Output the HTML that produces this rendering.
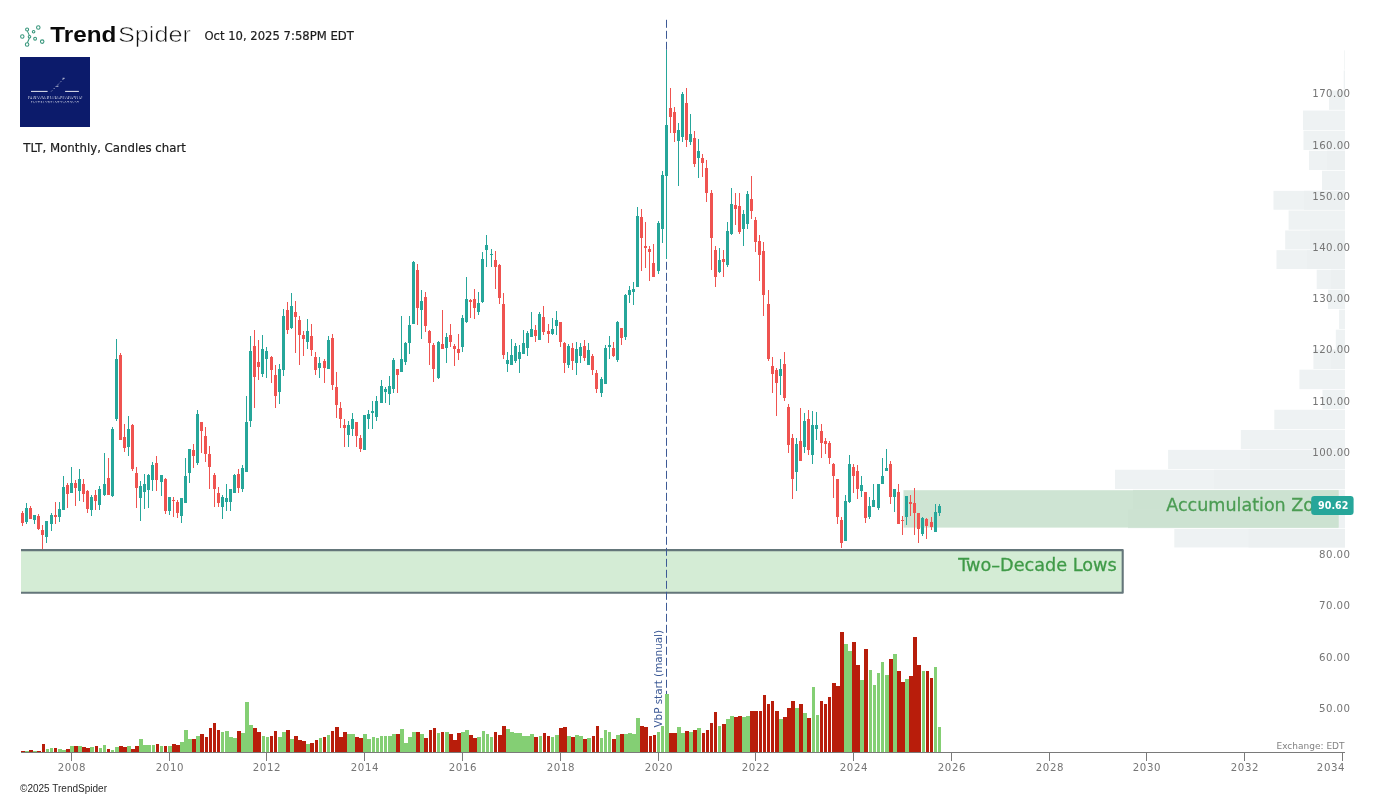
<!DOCTYPE html>
<html lang="en"><head><meta charset="utf-8"><title>TLT, Monthly, Candles chart - TrendSpider</title>
<style>
html,body{margin:0;padding:0;background:#fff;}
body{width:1375px;height:798px;overflow:hidden;position:relative;font-family:"DejaVu Sans","Liberation Sans",sans-serif;}
svg{position:absolute;left:0;top:0;display:block;}
.ax{font-family:"DejaVu Sans","Liberation Sans",sans-serif;font-size:10.2px;fill:#757575;}
.lbl{font-family:"DejaVu Sans","Liberation Sans",sans-serif;fill:#1c1c1c;stroke:#1c1c1c;stroke-width:0.2px;}
.zone{font-family:"DejaVu Sans","Liberation Sans",sans-serif;font-size:18px;stroke-width:0.3px;}
</style></head><body>
<svg width="1375" height="798" viewBox="0 0 1375 798">
<rect width="1375" height="798" fill="#ffffff"/>
<g id="vbp">
<rect x="1344.3" y="50.35" width="0.7" height="19.40" fill="#eef2f3"/>
<rect x="1343.7" y="70.45" width="1.3" height="19.30" fill="#eef2f3"/>
<rect x="1329.0" y="90.45" width="16.0" height="19.40" fill="#eef2f3"/>
<rect x="1303.0" y="110.55" width="42.0" height="19.40" fill="#eef2f3"/>
<rect x="1303.5" y="130.65" width="41.5" height="19.40" fill="#eef2f3"/>
<rect x="1309.0" y="150.75" width="36.0" height="19.30" fill="#eef2f3"/>
<rect x="1327.0" y="150.75" width="18.0" height="19.30" fill="#ecf0f1"/>
<rect x="1322.0" y="170.75" width="23.0" height="19.40" fill="#eef2f3"/>
<rect x="1273.5" y="190.85" width="71.5" height="18.90" fill="#eef2f3"/>
<rect x="1304.0" y="190.85" width="41.0" height="18.90" fill="#ecf0f1"/>
<rect x="1288.6" y="210.45" width="56.4" height="19.30" fill="#eef2f3"/>
<rect x="1285.2" y="230.45" width="59.8" height="19.00" fill="#eef2f3"/>
<rect x="1310.0" y="230.45" width="35.0" height="19.00" fill="#ecf0f1"/>
<rect x="1276.5" y="250.15" width="68.5" height="18.90" fill="#eef2f3"/>
<rect x="1307.0" y="250.15" width="38.0" height="18.90" fill="#ecf0f1"/>
<rect x="1316.7" y="269.75" width="28.3" height="19.20" fill="#eef2f3"/>
<rect x="1331.0" y="269.75" width="14.0" height="19.20" fill="#ecf0f1"/>
<rect x="1328.0" y="289.65" width="17.0" height="19.30" fill="#eef2f3"/>
<rect x="1339.1" y="309.65" width="5.9" height="19.30" fill="#eef2f3"/>
<rect x="1335.8" y="329.65" width="9.2" height="19.30" fill="#eef2f3"/>
<rect x="1313.4" y="349.65" width="31.6" height="19.30" fill="#eef2f3"/>
<rect x="1331.0" y="349.65" width="14.0" height="19.30" fill="#ecf0f1"/>
<rect x="1299.4" y="369.65" width="45.6" height="19.50" fill="#eef2f3"/>
<rect x="1322.5" y="389.85" width="22.5" height="19.20" fill="#eef2f3"/>
<rect x="1274.3" y="409.75" width="70.7" height="19.50" fill="#eef2f3"/>
<rect x="1240.8" y="429.95" width="104.2" height="19.20" fill="#eef2f3"/>
<rect x="1168.1" y="449.85" width="176.9" height="19.20" fill="#eef2f3"/>
<rect x="1250.0" y="449.85" width="95.0" height="19.20" fill="#ecf0f1"/>
<rect x="1115.0" y="469.75" width="230.0" height="19.30" fill="#eef2f3"/>
<rect x="1214.0" y="469.75" width="131.0" height="19.30" fill="#ecf0f1"/>
<rect x="1133.0" y="489.75" width="212.0" height="19.20" fill="#eef2f3"/>
<rect x="1128.0" y="509.65" width="217.0" height="18.60" fill="#eef2f3"/>
<rect x="1174.3" y="528.95" width="170.7" height="18.50" fill="#eef2f3"/>
<rect x="1248.5" y="528.95" width="96.5" height="18.50" fill="#ecf0f1"/>
</g>
<rect x="903.5" y="490.2" width="435" height="37.4" fill="#cee4d3"/>
<rect x="1133" y="490.2" width="205.5" height="19.1" fill="#ccE2d1"/>
<rect x="1128" y="509.6" width="210.5" height="18" fill="#cce2d1"/>
<rect x="21" y="550" width="1101.8" height="42.8" fill="#d4ecd5"/>
<path d="M21 550.1 H1122.7 V592.8 H21" fill="none" stroke="#64767a" stroke-width="2.1" stroke-linejoin="round"/>
<line x1="666.5" y1="19.8" x2="666.5" y2="752" stroke="#3d5a96" stroke-width="1" stroke-dasharray="8 3"/>
<text class="zone" x="1166.2" y="510.6" textLength="169.8" lengthAdjust="spacingAndGlyphs" fill="#4b9c53" stroke="#4b9c53">Accumulation Zone</text>
<text class="zone" x="1116.7" y="570.8" text-anchor="end" textLength="158.5" lengthAdjust="spacingAndGlyphs" fill="#3f9a47" stroke="#3f9a47">Two–Decade Lows</text>
<g id="vol" shape-rendering="crispEdges">
<rect x="21" y="751" width="4" height="1" fill="#b81d0b"/>
<rect x="25" y="751" width="4" height="1" fill="#84cf74"/>
<rect x="29" y="750" width="4" height="2" fill="#b81d0b"/>
<rect x="33" y="751" width="4" height="1" fill="#84cf74"/>
<rect x="37" y="751" width="4" height="1" fill="#b81d0b"/>
<rect x="42" y="744" width="3" height="8" fill="#b81d0b"/>
<rect x="46" y="749" width="3" height="3" fill="#84cf74"/>
<rect x="50" y="748" width="3" height="4" fill="#84cf74"/>
<rect x="54" y="748" width="3" height="4" fill="#b81d0b"/>
<rect x="58" y="749" width="4" height="3" fill="#84cf74"/>
<rect x="62" y="750" width="4" height="2" fill="#84cf74"/>
<rect x="66" y="749" width="4" height="3" fill="#b81d0b"/>
<rect x="70" y="746" width="4" height="6" fill="#84cf74"/>
<rect x="74" y="746" width="4" height="6" fill="#b81d0b"/>
<rect x="78" y="746" width="4" height="6" fill="#84cf74"/>
<rect x="82" y="747" width="4" height="5" fill="#b81d0b"/>
<rect x="86" y="748" width="4" height="4" fill="#b81d0b"/>
<rect x="90" y="747" width="4" height="5" fill="#84cf74"/>
<rect x="95" y="746" width="3" height="6" fill="#b81d0b"/>
<rect x="99" y="748" width="3" height="4" fill="#84cf74"/>
<rect x="103" y="745" width="3" height="7" fill="#84cf74"/>
<rect x="107" y="749" width="3" height="3" fill="#b81d0b"/>
<rect x="111" y="750" width="3" height="2" fill="#84cf74"/>
<rect x="115" y="747" width="4" height="5" fill="#84cf74"/>
<rect x="119" y="746" width="4" height="6" fill="#b81d0b"/>
<rect x="123" y="747" width="4" height="5" fill="#b81d0b"/>
<rect x="127" y="746" width="4" height="6" fill="#84cf74"/>
<rect x="131" y="749" width="4" height="3" fill="#b81d0b"/>
<rect x="135" y="746" width="4" height="6" fill="#b81d0b"/>
<rect x="139" y="739" width="4" height="13" fill="#84cf74"/>
<rect x="143" y="745" width="4" height="7" fill="#84cf74"/>
<rect x="147" y="745" width="4" height="7" fill="#84cf74"/>
<rect x="152" y="745" width="3" height="7" fill="#84cf74"/>
<rect x="156" y="744" width="3" height="8" fill="#b81d0b"/>
<rect x="160" y="746" width="3" height="6" fill="#84cf74"/>
<rect x="164" y="746" width="3" height="6" fill="#b81d0b"/>
<rect x="168" y="746" width="4" height="6" fill="#84cf74"/>
<rect x="172" y="744" width="4" height="8" fill="#b81d0b"/>
<rect x="176" y="745" width="4" height="7" fill="#b81d0b"/>
<rect x="180" y="742" width="4" height="10" fill="#84cf74"/>
<rect x="184" y="730" width="4" height="22" fill="#84cf74"/>
<rect x="188" y="739" width="4" height="13" fill="#84cf74"/>
<rect x="192" y="739" width="4" height="13" fill="#b81d0b"/>
<rect x="196" y="736" width="4" height="16" fill="#84cf74"/>
<rect x="200" y="734" width="4" height="18" fill="#b81d0b"/>
<rect x="205" y="737" width="3" height="15" fill="#b81d0b"/>
<rect x="209" y="728" width="3" height="24" fill="#b81d0b"/>
<rect x="213" y="723" width="3" height="29" fill="#b81d0b"/>
<rect x="217" y="730" width="3" height="22" fill="#b81d0b"/>
<rect x="221" y="732" width="3" height="20" fill="#84cf74"/>
<rect x="225" y="731" width="4" height="21" fill="#84cf74"/>
<rect x="229" y="737" width="4" height="15" fill="#84cf74"/>
<rect x="233" y="738" width="4" height="14" fill="#84cf74"/>
<rect x="237" y="731" width="4" height="21" fill="#b81d0b"/>
<rect x="241" y="733" width="4" height="19" fill="#84cf74"/>
<rect x="245" y="702" width="4" height="50" fill="#84cf74"/>
<rect x="249" y="725" width="4" height="27" fill="#84cf74"/>
<rect x="253" y="728" width="4" height="24" fill="#b81d0b"/>
<rect x="257" y="732" width="4" height="20" fill="#b81d0b"/>
<rect x="262" y="736" width="3" height="16" fill="#84cf74"/>
<rect x="266" y="737" width="3" height="15" fill="#84cf74"/>
<rect x="270" y="736" width="3" height="16" fill="#b81d0b"/>
<rect x="274" y="731" width="3" height="21" fill="#b81d0b"/>
<rect x="278" y="737" width="4" height="15" fill="#84cf74"/>
<rect x="282" y="732" width="4" height="20" fill="#84cf74"/>
<rect x="286" y="730" width="4" height="22" fill="#b81d0b"/>
<rect x="290" y="739" width="4" height="13" fill="#84cf74"/>
<rect x="294" y="736" width="4" height="16" fill="#b81d0b"/>
<rect x="298" y="740" width="4" height="12" fill="#b81d0b"/>
<rect x="302" y="741" width="4" height="11" fill="#b81d0b"/>
<rect x="306" y="744" width="4" height="8" fill="#84cf74"/>
<rect x="310" y="743" width="4" height="9" fill="#b81d0b"/>
<rect x="315" y="740" width="3" height="12" fill="#b81d0b"/>
<rect x="319" y="738" width="3" height="14" fill="#84cf74"/>
<rect x="323" y="737" width="3" height="15" fill="#b81d0b"/>
<rect x="327" y="735" width="3" height="17" fill="#84cf74"/>
<rect x="331" y="731" width="3" height="21" fill="#b81d0b"/>
<rect x="335" y="727" width="4" height="25" fill="#b81d0b"/>
<rect x="339" y="737" width="4" height="15" fill="#b81d0b"/>
<rect x="343" y="732" width="4" height="20" fill="#b81d0b"/>
<rect x="347" y="734" width="4" height="18" fill="#84cf74"/>
<rect x="351" y="734" width="4" height="18" fill="#84cf74"/>
<rect x="355" y="737" width="4" height="15" fill="#b81d0b"/>
<rect x="359" y="738" width="4" height="14" fill="#b81d0b"/>
<rect x="363" y="734" width="4" height="18" fill="#84cf74"/>
<rect x="367" y="739" width="4" height="13" fill="#84cf74"/>
<rect x="372" y="737" width="3" height="15" fill="#84cf74"/>
<rect x="376" y="738" width="3" height="14" fill="#84cf74"/>
<rect x="380" y="736" width="3" height="16" fill="#84cf74"/>
<rect x="384" y="736" width="3" height="16" fill="#84cf74"/>
<rect x="388" y="736" width="4" height="16" fill="#84cf74"/>
<rect x="392" y="734" width="4" height="18" fill="#84cf74"/>
<rect x="396" y="734" width="4" height="18" fill="#b81d0b"/>
<rect x="400" y="729" width="4" height="23" fill="#84cf74"/>
<rect x="404" y="743" width="4" height="9" fill="#84cf74"/>
<rect x="408" y="737" width="4" height="15" fill="#84cf74"/>
<rect x="412" y="732" width="4" height="20" fill="#84cf74"/>
<rect x="416" y="732" width="4" height="20" fill="#b81d0b"/>
<rect x="420" y="734" width="4" height="18" fill="#84cf74"/>
<rect x="424" y="738" width="4" height="14" fill="#b81d0b"/>
<rect x="429" y="730" width="3" height="22" fill="#b81d0b"/>
<rect x="433" y="728" width="3" height="24" fill="#b81d0b"/>
<rect x="437" y="733" width="3" height="19" fill="#84cf74"/>
<rect x="441" y="732" width="3" height="20" fill="#b81d0b"/>
<rect x="445" y="732" width="4" height="20" fill="#84cf74"/>
<rect x="449" y="734" width="4" height="18" fill="#b81d0b"/>
<rect x="453" y="740" width="4" height="12" fill="#b81d0b"/>
<rect x="457" y="733" width="4" height="19" fill="#b81d0b"/>
<rect x="461" y="732" width="4" height="20" fill="#84cf74"/>
<rect x="465" y="730" width="4" height="22" fill="#84cf74"/>
<rect x="469" y="735" width="4" height="17" fill="#b81d0b"/>
<rect x="473" y="738" width="4" height="14" fill="#b81d0b"/>
<rect x="477" y="737" width="4" height="15" fill="#84cf74"/>
<rect x="482" y="731" width="3" height="21" fill="#84cf74"/>
<rect x="486" y="734" width="3" height="18" fill="#84cf74"/>
<rect x="490" y="737" width="3" height="15" fill="#84cf74"/>
<rect x="494" y="732" width="3" height="20" fill="#b81d0b"/>
<rect x="498" y="735" width="4" height="17" fill="#b81d0b"/>
<rect x="502" y="726" width="4" height="26" fill="#b81d0b"/>
<rect x="506" y="729" width="4" height="23" fill="#84cf74"/>
<rect x="510" y="732" width="4" height="20" fill="#84cf74"/>
<rect x="514" y="733" width="4" height="19" fill="#84cf74"/>
<rect x="518" y="733" width="4" height="19" fill="#84cf74"/>
<rect x="522" y="736" width="4" height="16" fill="#84cf74"/>
<rect x="526" y="736" width="4" height="16" fill="#84cf74"/>
<rect x="530" y="734" width="4" height="18" fill="#84cf74"/>
<rect x="534" y="737" width="4" height="15" fill="#b81d0b"/>
<rect x="539" y="736" width="3" height="16" fill="#84cf74"/>
<rect x="543" y="733" width="3" height="19" fill="#b81d0b"/>
<rect x="547" y="736" width="3" height="16" fill="#b81d0b"/>
<rect x="551" y="737" width="3" height="15" fill="#84cf74"/>
<rect x="555" y="735" width="4" height="17" fill="#84cf74"/>
<rect x="559" y="728" width="4" height="24" fill="#b81d0b"/>
<rect x="563" y="727" width="4" height="25" fill="#b81d0b"/>
<rect x="567" y="736" width="4" height="16" fill="#84cf74"/>
<rect x="571" y="737" width="4" height="15" fill="#b81d0b"/>
<rect x="575" y="735" width="4" height="17" fill="#84cf74"/>
<rect x="579" y="736" width="4" height="16" fill="#84cf74"/>
<rect x="583" y="739" width="4" height="13" fill="#b81d0b"/>
<rect x="587" y="738" width="4" height="14" fill="#84cf74"/>
<rect x="592" y="736" width="3" height="16" fill="#b81d0b"/>
<rect x="596" y="726" width="3" height="26" fill="#b81d0b"/>
<rect x="600" y="738" width="3" height="14" fill="#84cf74"/>
<rect x="604" y="730" width="3" height="22" fill="#84cf74"/>
<rect x="608" y="732" width="3" height="20" fill="#84cf74"/>
<rect x="612" y="739" width="4" height="13" fill="#b81d0b"/>
<rect x="616" y="735" width="4" height="17" fill="#84cf74"/>
<rect x="620" y="734" width="4" height="18" fill="#b81d0b"/>
<rect x="624" y="734" width="4" height="18" fill="#84cf74"/>
<rect x="628" y="733" width="4" height="19" fill="#84cf74"/>
<rect x="632" y="734" width="4" height="18" fill="#84cf74"/>
<rect x="636" y="718" width="4" height="34" fill="#84cf74"/>
<rect x="640" y="726" width="4" height="26" fill="#b81d0b"/>
<rect x="644" y="727" width="4" height="25" fill="#b81d0b"/>
<rect x="649" y="736" width="3" height="16" fill="#b81d0b"/>
<rect x="653" y="735" width="3" height="17" fill="#b81d0b"/>
<rect x="657" y="732" width="3" height="20" fill="#84cf74"/>
<rect x="661" y="726" width="3" height="26" fill="#84cf74"/>
<rect x="665" y="694" width="4" height="58" fill="#84cf74"/>
<rect x="669" y="733" width="4" height="19" fill="#b81d0b"/>
<rect x="673" y="733" width="4" height="19" fill="#b81d0b"/>
<rect x="677" y="727" width="4" height="25" fill="#84cf74"/>
<rect x="681" y="733" width="4" height="19" fill="#84cf74"/>
<rect x="685" y="731" width="4" height="21" fill="#b81d0b"/>
<rect x="689" y="732" width="4" height="20" fill="#84cf74"/>
<rect x="693" y="730" width="4" height="22" fill="#b81d0b"/>
<rect x="697" y="728" width="4" height="24" fill="#84cf74"/>
<rect x="702" y="733" width="3" height="19" fill="#b81d0b"/>
<rect x="706" y="730" width="3" height="22" fill="#b81d0b"/>
<rect x="710" y="723" width="3" height="29" fill="#b81d0b"/>
<rect x="714" y="712" width="3" height="40" fill="#b81d0b"/>
<rect x="718" y="726" width="3" height="26" fill="#84cf74"/>
<rect x="722" y="724" width="4" height="28" fill="#b81d0b"/>
<rect x="726" y="719" width="4" height="33" fill="#84cf74"/>
<rect x="730" y="716" width="4" height="36" fill="#84cf74"/>
<rect x="734" y="717" width="4" height="35" fill="#b81d0b"/>
<rect x="738" y="716" width="4" height="36" fill="#b81d0b"/>
<rect x="742" y="717" width="4" height="35" fill="#84cf74"/>
<rect x="746" y="716" width="4" height="36" fill="#84cf74"/>
<rect x="750" y="711" width="4" height="41" fill="#b81d0b"/>
<rect x="754" y="711" width="4" height="41" fill="#b81d0b"/>
<rect x="759" y="711" width="3" height="41" fill="#b81d0b"/>
<rect x="763" y="695" width="3" height="57" fill="#b81d0b"/>
<rect x="767" y="704" width="3" height="48" fill="#b81d0b"/>
<rect x="771" y="701" width="3" height="51" fill="#b81d0b"/>
<rect x="775" y="711" width="4" height="41" fill="#b81d0b"/>
<rect x="779" y="719" width="4" height="33" fill="#84cf74"/>
<rect x="783" y="717" width="4" height="35" fill="#b81d0b"/>
<rect x="787" y="708" width="4" height="44" fill="#b81d0b"/>
<rect x="791" y="701" width="4" height="51" fill="#b81d0b"/>
<rect x="795" y="708" width="4" height="44" fill="#84cf74"/>
<rect x="799" y="704" width="4" height="48" fill="#b81d0b"/>
<rect x="803" y="713" width="4" height="39" fill="#84cf74"/>
<rect x="807" y="718" width="4" height="34" fill="#b81d0b"/>
<rect x="812" y="687" width="3" height="65" fill="#84cf74"/>
<rect x="816" y="715" width="3" height="37" fill="#84cf74"/>
<rect x="820" y="701" width="3" height="51" fill="#b81d0b"/>
<rect x="824" y="704" width="3" height="48" fill="#b81d0b"/>
<rect x="828" y="697" width="3" height="55" fill="#b81d0b"/>
<rect x="832" y="683" width="4" height="69" fill="#b81d0b"/>
<rect x="836" y="686" width="4" height="66" fill="#b81d0b"/>
<rect x="840" y="632" width="4" height="120" fill="#b81d0b"/>
<rect x="844" y="644" width="4" height="108" fill="#84cf74"/>
<rect x="848" y="651" width="4" height="101" fill="#84cf74"/>
<rect x="852" y="642" width="4" height="110" fill="#b81d0b"/>
<rect x="856" y="665" width="4" height="87" fill="#b81d0b"/>
<rect x="860" y="680" width="4" height="72" fill="#84cf74"/>
<rect x="864" y="649" width="4" height="103" fill="#b81d0b"/>
<rect x="869" y="670" width="3" height="82" fill="#84cf74"/>
<rect x="873" y="685" width="3" height="67" fill="#84cf74"/>
<rect x="877" y="673" width="3" height="79" fill="#84cf74"/>
<rect x="881" y="662" width="3" height="90" fill="#84cf74"/>
<rect x="885" y="675" width="4" height="77" fill="#84cf74"/>
<rect x="889" y="659" width="4" height="93" fill="#b81d0b"/>
<rect x="893" y="654" width="4" height="98" fill="#84cf74"/>
<rect x="897" y="671" width="4" height="81" fill="#b81d0b"/>
<rect x="901" y="682" width="4" height="70" fill="#b81d0b"/>
<rect x="905" y="679" width="4" height="73" fill="#84cf74"/>
<rect x="909" y="676" width="4" height="76" fill="#b81d0b"/>
<rect x="913" y="637" width="4" height="115" fill="#b81d0b"/>
<rect x="917" y="665" width="4" height="87" fill="#b81d0b"/>
<rect x="922" y="671" width="3" height="81" fill="#84cf74"/>
<rect x="926" y="671" width="3" height="81" fill="#b81d0b"/>
<rect x="930" y="678" width="3" height="74" fill="#b81d0b"/>
<rect x="934" y="667" width="3" height="85" fill="#84cf74"/>
<rect x="938" y="727" width="3" height="25" fill="#84cf74"/>
</g>
<g id="candles" shape-rendering="crispEdges">
<rect x="22" y="511" width="1" height="15" fill="#ef5350"/><rect x="21" y="513" width="3" height="10" fill="#ef5350"/>
<rect x="26" y="503" width="1" height="21" fill="#26a69a"/><rect x="25" y="508" width="3" height="14" fill="#26a69a"/>
<rect x="30" y="506" width="1" height="13" fill="#ef5350"/><rect x="29" y="508" width="3" height="11" fill="#ef5350"/>
<rect x="34" y="515" width="1" height="9" fill="#26a69a"/><rect x="33" y="515" width="3" height="5" fill="#26a69a"/>
<rect x="38" y="514" width="1" height="16" fill="#ef5350"/><rect x="37" y="516" width="3" height="13" fill="#ef5350"/>
<rect x="42" y="525" width="1" height="24" fill="#ef5350"/><rect x="41" y="530" width="3" height="5" fill="#ef5350"/>
<rect x="46" y="521" width="1" height="22" fill="#26a69a"/><rect x="45" y="521" width="3" height="16" fill="#26a69a"/>
<rect x="51" y="513" width="1" height="18" fill="#26a69a"/><rect x="50" y="515" width="3" height="9" fill="#26a69a"/>
<rect x="55" y="502" width="1" height="22" fill="#ef5350"/><rect x="54" y="515" width="3" height="2" fill="#ef5350"/>
<rect x="59" y="502" width="1" height="20" fill="#26a69a"/><rect x="58" y="509" width="3" height="8" fill="#26a69a"/>
<rect x="63" y="476" width="1" height="34" fill="#26a69a"/><rect x="62" y="487" width="3" height="23" fill="#26a69a"/>
<rect x="67" y="483" width="1" height="25" fill="#ef5350"/><rect x="66" y="485" width="3" height="9" fill="#ef5350"/>
<rect x="71" y="467" width="1" height="26" fill="#26a69a"/><rect x="70" y="483" width="3" height="10" fill="#26a69a"/>
<rect x="75" y="480" width="1" height="26" fill="#ef5350"/><rect x="74" y="483" width="3" height="5" fill="#ef5350"/>
<rect x="79" y="469" width="1" height="32" fill="#26a69a"/><rect x="78" y="479" width="3" height="12" fill="#26a69a"/>
<rect x="83" y="479" width="1" height="23" fill="#ef5350"/><rect x="82" y="484" width="3" height="10" fill="#ef5350"/>
<rect x="87" y="490" width="1" height="23" fill="#ef5350"/><rect x="86" y="491" width="3" height="18" fill="#ef5350"/>
<rect x="91" y="495" width="1" height="21" fill="#26a69a"/><rect x="90" y="497" width="3" height="13" fill="#26a69a"/>
<rect x="95" y="490" width="1" height="20" fill="#ef5350"/><rect x="94" y="495" width="3" height="6" fill="#ef5350"/>
<rect x="99" y="486" width="1" height="24" fill="#26a69a"/><rect x="98" y="489" width="3" height="16" fill="#26a69a"/>
<rect x="104" y="453" width="1" height="43" fill="#26a69a"/><rect x="103" y="484" width="3" height="11" fill="#26a69a"/>
<rect x="108" y="458" width="1" height="37" fill="#ef5350"/><rect x="107" y="478" width="3" height="17" fill="#ef5350"/>
<rect x="112" y="427" width="1" height="70" fill="#26a69a"/><rect x="111" y="429" width="3" height="67" fill="#26a69a"/>
<rect x="116" y="339" width="1" height="82" fill="#26a69a"/><rect x="115" y="359" width="3" height="60" fill="#26a69a"/>
<rect x="120" y="353" width="1" height="87" fill="#ef5350"/><rect x="119" y="355" width="3" height="85" fill="#ef5350"/>
<rect x="124" y="424" width="1" height="28" fill="#ef5350"/><rect x="123" y="437" width="3" height="11" fill="#ef5350"/>
<rect x="128" y="416" width="1" height="40" fill="#26a69a"/><rect x="127" y="429" width="3" height="18" fill="#26a69a"/>
<rect x="132" y="424" width="1" height="47" fill="#ef5350"/><rect x="131" y="425" width="3" height="44" fill="#ef5350"/>
<rect x="136" y="467" width="1" height="41" fill="#ef5350"/><rect x="135" y="473" width="3" height="15" fill="#ef5350"/>
<rect x="140" y="481" width="1" height="40" fill="#26a69a"/><rect x="139" y="486" width="3" height="12" fill="#26a69a"/>
<rect x="144" y="474" width="1" height="35" fill="#26a69a"/><rect x="143" y="484" width="3" height="8" fill="#26a69a"/>
<rect x="148" y="474" width="1" height="34" fill="#26a69a"/><rect x="147" y="475" width="3" height="15" fill="#26a69a"/>
<rect x="152" y="462" width="1" height="29" fill="#26a69a"/><rect x="151" y="465" width="3" height="15" fill="#26a69a"/>
<rect x="156" y="456" width="1" height="35" fill="#ef5350"/><rect x="155" y="463" width="3" height="17" fill="#ef5350"/>
<rect x="161" y="475" width="1" height="21" fill="#26a69a"/><rect x="160" y="475" width="3" height="7" fill="#26a69a"/>
<rect x="165" y="478" width="1" height="36" fill="#ef5350"/><rect x="164" y="479" width="3" height="32" fill="#ef5350"/>
<rect x="169" y="497" width="1" height="18" fill="#26a69a"/><rect x="168" y="497" width="3" height="14" fill="#26a69a"/>
<rect x="173" y="497" width="1" height="20" fill="#ef5350"/><rect x="172" y="500" width="3" height="1" fill="#ef5350"/>
<rect x="177" y="500" width="1" height="18" fill="#ef5350"/><rect x="176" y="502" width="3" height="11" fill="#ef5350"/>
<rect x="181" y="498" width="1" height="25" fill="#26a69a"/><rect x="180" y="498" width="3" height="18" fill="#26a69a"/>
<rect x="185" y="458" width="1" height="45" fill="#26a69a"/><rect x="184" y="476" width="3" height="27" fill="#26a69a"/>
<rect x="189" y="449" width="1" height="34" fill="#26a69a"/><rect x="188" y="449" width="3" height="24" fill="#26a69a"/>
<rect x="193" y="444" width="1" height="24" fill="#ef5350"/><rect x="192" y="450" width="3" height="6" fill="#ef5350"/>
<rect x="197" y="410" width="1" height="55" fill="#26a69a"/><rect x="196" y="414" width="3" height="49" fill="#26a69a"/>
<rect x="201" y="422" width="1" height="31" fill="#ef5350"/><rect x="200" y="422" width="3" height="9" fill="#ef5350"/>
<rect x="205" y="427" width="1" height="35" fill="#ef5350"/><rect x="204" y="436" width="3" height="18" fill="#ef5350"/>
<rect x="209" y="446" width="1" height="43" fill="#ef5350"/><rect x="208" y="454" width="3" height="13" fill="#ef5350"/>
<rect x="214" y="473" width="1" height="34" fill="#ef5350"/><rect x="213" y="475" width="3" height="14" fill="#ef5350"/>
<rect x="218" y="487" width="1" height="20" fill="#ef5350"/><rect x="217" y="493" width="3" height="10" fill="#ef5350"/>
<rect x="222" y="495" width="1" height="24" fill="#26a69a"/><rect x="221" y="497" width="3" height="10" fill="#26a69a"/>
<rect x="226" y="484" width="1" height="27" fill="#26a69a"/><rect x="225" y="498" width="3" height="4" fill="#26a69a"/>
<rect x="230" y="489" width="1" height="22" fill="#26a69a"/><rect x="229" y="489" width="3" height="13" fill="#26a69a"/>
<rect x="234" y="474" width="1" height="19" fill="#26a69a"/><rect x="233" y="475" width="3" height="18" fill="#26a69a"/>
<rect x="238" y="469" width="1" height="24" fill="#ef5350"/><rect x="237" y="474" width="3" height="14" fill="#ef5350"/>
<rect x="242" y="465" width="1" height="27" fill="#26a69a"/><rect x="241" y="468" width="3" height="21" fill="#26a69a"/>
<rect x="246" y="396" width="1" height="76" fill="#26a69a"/><rect x="245" y="422" width="3" height="50" fill="#26a69a"/>
<rect x="250" y="336" width="1" height="91" fill="#26a69a"/><rect x="249" y="351" width="3" height="70" fill="#26a69a"/>
<rect x="254" y="330" width="1" height="78" fill="#ef5350"/><rect x="253" y="346" width="3" height="31" fill="#ef5350"/>
<rect x="258" y="340" width="1" height="40" fill="#ef5350"/><rect x="257" y="362" width="3" height="5" fill="#ef5350"/>
<rect x="262" y="335" width="1" height="42" fill="#26a69a"/><rect x="261" y="349" width="3" height="25" fill="#26a69a"/>
<rect x="266" y="347" width="1" height="31" fill="#26a69a"/><rect x="265" y="351" width="3" height="8" fill="#26a69a"/>
<rect x="271" y="356" width="1" height="27" fill="#ef5350"/><rect x="270" y="357" width="3" height="13" fill="#ef5350"/>
<rect x="275" y="365" width="1" height="43" fill="#ef5350"/><rect x="274" y="375" width="3" height="21" fill="#ef5350"/>
<rect x="279" y="364" width="1" height="40" fill="#26a69a"/><rect x="278" y="369" width="3" height="23" fill="#26a69a"/>
<rect x="283" y="309" width="1" height="67" fill="#26a69a"/><rect x="282" y="316" width="3" height="54" fill="#26a69a"/>
<rect x="287" y="302" width="1" height="32" fill="#ef5350"/><rect x="286" y="310" width="3" height="20" fill="#ef5350"/>
<rect x="291" y="293" width="1" height="36" fill="#26a69a"/><rect x="290" y="306" width="3" height="22" fill="#26a69a"/>
<rect x="295" y="301" width="1" height="52" fill="#ef5350"/><rect x="294" y="312" width="3" height="5" fill="#ef5350"/>
<rect x="299" y="316" width="1" height="49" fill="#ef5350"/><rect x="298" y="320" width="3" height="15" fill="#ef5350"/>
<rect x="303" y="331" width="1" height="25" fill="#ef5350"/><rect x="302" y="335" width="3" height="4" fill="#ef5350"/>
<rect x="307" y="319" width="1" height="30" fill="#26a69a"/><rect x="306" y="331" width="3" height="11" fill="#26a69a"/>
<rect x="311" y="324" width="1" height="32" fill="#ef5350"/><rect x="310" y="336" width="3" height="14" fill="#ef5350"/>
<rect x="315" y="352" width="1" height="23" fill="#ef5350"/><rect x="314" y="357" width="3" height="13" fill="#ef5350"/>
<rect x="319" y="357" width="1" height="21" fill="#26a69a"/><rect x="318" y="363" width="3" height="5" fill="#26a69a"/>
<rect x="324" y="359" width="1" height="24" fill="#ef5350"/><rect x="323" y="361" width="3" height="7" fill="#ef5350"/>
<rect x="328" y="336" width="1" height="33" fill="#26a69a"/><rect x="327" y="340" width="3" height="29" fill="#26a69a"/>
<rect x="332" y="334" width="1" height="56" fill="#ef5350"/><rect x="331" y="338" width="3" height="47" fill="#ef5350"/>
<rect x="336" y="372" width="1" height="46" fill="#ef5350"/><rect x="335" y="387" width="3" height="18" fill="#ef5350"/>
<rect x="340" y="402" width="1" height="26" fill="#ef5350"/><rect x="339" y="408" width="3" height="11" fill="#ef5350"/>
<rect x="344" y="419" width="1" height="28" fill="#ef5350"/><rect x="343" y="425" width="3" height="3" fill="#ef5350"/>
<rect x="348" y="421" width="1" height="26" fill="#26a69a"/><rect x="347" y="425" width="3" height="10" fill="#26a69a"/>
<rect x="352" y="413" width="1" height="23" fill="#26a69a"/><rect x="351" y="419" width="3" height="10" fill="#26a69a"/>
<rect x="356" y="422" width="1" height="25" fill="#ef5350"/><rect x="355" y="422" width="3" height="14" fill="#ef5350"/>
<rect x="360" y="435" width="1" height="17" fill="#ef5350"/><rect x="359" y="438" width="3" height="11" fill="#ef5350"/>
<rect x="364" y="415" width="1" height="35" fill="#26a69a"/><rect x="363" y="415" width="3" height="35" fill="#26a69a"/>
<rect x="368" y="410" width="1" height="19" fill="#26a69a"/><rect x="367" y="414" width="3" height="5" fill="#26a69a"/>
<rect x="372" y="401" width="1" height="28" fill="#26a69a"/><rect x="371" y="411" width="3" height="2" fill="#26a69a"/>
<rect x="376" y="396" width="1" height="25" fill="#26a69a"/><rect x="375" y="401" width="3" height="16" fill="#26a69a"/>
<rect x="381" y="380" width="1" height="23" fill="#26a69a"/><rect x="380" y="386" width="3" height="17" fill="#26a69a"/>
<rect x="385" y="387" width="1" height="16" fill="#26a69a"/><rect x="384" y="389" width="3" height="3" fill="#26a69a"/>
<rect x="389" y="376" width="1" height="29" fill="#26a69a"/><rect x="388" y="386" width="3" height="8" fill="#26a69a"/>
<rect x="393" y="358" width="1" height="35" fill="#26a69a"/><rect x="392" y="360" width="3" height="29" fill="#26a69a"/>
<rect x="397" y="369" width="1" height="24" fill="#ef5350"/><rect x="396" y="369" width="3" height="6" fill="#ef5350"/>
<rect x="401" y="316" width="1" height="56" fill="#26a69a"/><rect x="400" y="359" width="3" height="13" fill="#26a69a"/>
<rect x="405" y="342" width="1" height="23" fill="#26a69a"/><rect x="404" y="343" width="3" height="19" fill="#26a69a"/>
<rect x="409" y="316" width="1" height="38" fill="#26a69a"/><rect x="408" y="325" width="3" height="18" fill="#26a69a"/>
<rect x="413" y="261" width="1" height="63" fill="#26a69a"/><rect x="412" y="262" width="3" height="62" fill="#26a69a"/>
<rect x="417" y="264" width="1" height="61" fill="#ef5350"/><rect x="416" y="270" width="3" height="38" fill="#ef5350"/>
<rect x="421" y="290" width="1" height="49" fill="#26a69a"/><rect x="420" y="301" width="3" height="9" fill="#26a69a"/>
<rect x="425" y="292" width="1" height="40" fill="#ef5350"/><rect x="424" y="297" width="3" height="29" fill="#ef5350"/>
<rect x="429" y="330" width="1" height="35" fill="#ef5350"/><rect x="428" y="331" width="3" height="12" fill="#ef5350"/>
<rect x="433" y="343" width="1" height="39" fill="#ef5350"/><rect x="432" y="345" width="3" height="24" fill="#ef5350"/>
<rect x="438" y="341" width="1" height="38" fill="#26a69a"/><rect x="437" y="342" width="3" height="36" fill="#26a69a"/>
<rect x="442" y="310" width="1" height="39" fill="#ef5350"/><rect x="441" y="344" width="3" height="5" fill="#ef5350"/>
<rect x="446" y="333" width="1" height="30" fill="#26a69a"/><rect x="445" y="337" width="3" height="11" fill="#26a69a"/>
<rect x="450" y="324" width="1" height="23" fill="#ef5350"/><rect x="449" y="335" width="3" height="7" fill="#ef5350"/>
<rect x="454" y="344" width="1" height="22" fill="#ef5350"/><rect x="453" y="346" width="3" height="3" fill="#ef5350"/>
<rect x="458" y="334" width="1" height="26" fill="#ef5350"/><rect x="457" y="349" width="3" height="4" fill="#ef5350"/>
<rect x="462" y="315" width="1" height="37" fill="#26a69a"/><rect x="461" y="318" width="3" height="29" fill="#26a69a"/>
<rect x="466" y="277" width="1" height="46" fill="#26a69a"/><rect x="465" y="299" width="3" height="23" fill="#26a69a"/>
<rect x="470" y="299" width="1" height="19" fill="#ef5350"/><rect x="469" y="300" width="3" height="2" fill="#ef5350"/>
<rect x="474" y="289" width="1" height="30" fill="#ef5350"/><rect x="473" y="299" width="3" height="9" fill="#ef5350"/>
<rect x="478" y="292" width="1" height="23" fill="#26a69a"/><rect x="477" y="303" width="3" height="9" fill="#26a69a"/>
<rect x="482" y="252" width="1" height="51" fill="#26a69a"/><rect x="481" y="259" width="3" height="43" fill="#26a69a"/>
<rect x="486" y="235" width="1" height="32" fill="#26a69a"/><rect x="485" y="245" width="3" height="5" fill="#26a69a"/>
<rect x="491" y="249" width="1" height="18" fill="#26a69a"/><rect x="490" y="254" width="3" height="1" fill="#26a69a"/>
<rect x="495" y="251" width="1" height="38" fill="#ef5350"/><rect x="494" y="260" width="3" height="7" fill="#ef5350"/>
<rect x="499" y="264" width="1" height="40" fill="#ef5350"/><rect x="498" y="265" width="3" height="33" fill="#ef5350"/>
<rect x="503" y="293" width="1" height="66" fill="#ef5350"/><rect x="502" y="304" width="3" height="51" fill="#ef5350"/>
<rect x="507" y="352" width="1" height="20" fill="#26a69a"/><rect x="506" y="360" width="3" height="4" fill="#26a69a"/>
<rect x="511" y="339" width="1" height="26" fill="#26a69a"/><rect x="510" y="355" width="3" height="10" fill="#26a69a"/>
<rect x="515" y="343" width="1" height="20" fill="#26a69a"/><rect x="514" y="346" width="3" height="15" fill="#26a69a"/>
<rect x="519" y="345" width="1" height="28" fill="#26a69a"/><rect x="518" y="352" width="3" height="7" fill="#26a69a"/>
<rect x="523" y="330" width="1" height="24" fill="#26a69a"/><rect x="522" y="343" width="3" height="11" fill="#26a69a"/>
<rect x="527" y="331" width="1" height="25" fill="#26a69a"/><rect x="526" y="333" width="3" height="15" fill="#26a69a"/>
<rect x="531" y="312" width="1" height="25" fill="#26a69a"/><rect x="530" y="329" width="3" height="8" fill="#26a69a"/>
<rect x="535" y="325" width="1" height="17" fill="#ef5350"/><rect x="534" y="330" width="3" height="6" fill="#ef5350"/>
<rect x="539" y="312" width="1" height="28" fill="#26a69a"/><rect x="538" y="314" width="3" height="26" fill="#26a69a"/>
<rect x="543" y="306" width="1" height="29" fill="#ef5350"/><rect x="542" y="317" width="3" height="15" fill="#ef5350"/>
<rect x="548" y="324" width="1" height="19" fill="#ef5350"/><rect x="547" y="331" width="3" height="3" fill="#ef5350"/>
<rect x="552" y="318" width="1" height="17" fill="#26a69a"/><rect x="551" y="329" width="3" height="5" fill="#26a69a"/>
<rect x="556" y="311" width="1" height="24" fill="#26a69a"/><rect x="555" y="320" width="3" height="6" fill="#26a69a"/>
<rect x="560" y="322" width="1" height="25" fill="#ef5350"/><rect x="559" y="322" width="3" height="20" fill="#ef5350"/>
<rect x="564" y="342" width="1" height="31" fill="#ef5350"/><rect x="563" y="343" width="3" height="20" fill="#ef5350"/>
<rect x="568" y="344" width="1" height="24" fill="#26a69a"/><rect x="567" y="346" width="3" height="19" fill="#26a69a"/>
<rect x="572" y="343" width="1" height="27" fill="#ef5350"/><rect x="571" y="348" width="3" height="13" fill="#ef5350"/>
<rect x="576" y="342" width="1" height="33" fill="#26a69a"/><rect x="575" y="349" width="3" height="14" fill="#26a69a"/>
<rect x="580" y="343" width="1" height="20" fill="#26a69a"/><rect x="579" y="347" width="3" height="9" fill="#26a69a"/>
<rect x="584" y="340" width="1" height="21" fill="#ef5350"/><rect x="583" y="346" width="3" height="12" fill="#ef5350"/>
<rect x="588" y="343" width="1" height="22" fill="#26a69a"/><rect x="587" y="350" width="3" height="15" fill="#26a69a"/>
<rect x="592" y="354" width="1" height="21" fill="#ef5350"/><rect x="591" y="356" width="3" height="14" fill="#ef5350"/>
<rect x="596" y="370" width="1" height="23" fill="#ef5350"/><rect x="595" y="373" width="3" height="16" fill="#ef5350"/>
<rect x="601" y="377" width="1" height="20" fill="#26a69a"/><rect x="600" y="379" width="3" height="14" fill="#26a69a"/>
<rect x="605" y="345" width="1" height="39" fill="#26a69a"/><rect x="604" y="348" width="3" height="36" fill="#26a69a"/>
<rect x="609" y="336" width="1" height="23" fill="#26a69a"/><rect x="608" y="345" width="3" height="2" fill="#26a69a"/>
<rect x="613" y="342" width="1" height="15" fill="#ef5350"/><rect x="612" y="348" width="3" height="8" fill="#ef5350"/>
<rect x="617" y="321" width="1" height="41" fill="#26a69a"/><rect x="616" y="322" width="3" height="38" fill="#26a69a"/>
<rect x="621" y="328" width="1" height="17" fill="#ef5350"/><rect x="620" y="328" width="3" height="10" fill="#ef5350"/>
<rect x="625" y="294" width="1" height="46" fill="#26a69a"/><rect x="624" y="295" width="3" height="42" fill="#26a69a"/>
<rect x="629" y="286" width="1" height="17" fill="#26a69a"/><rect x="628" y="290" width="3" height="5" fill="#26a69a"/>
<rect x="633" y="282" width="1" height="23" fill="#26a69a"/><rect x="632" y="289" width="3" height="3" fill="#26a69a"/>
<rect x="637" y="207" width="1" height="80" fill="#26a69a"/><rect x="636" y="216" width="3" height="71" fill="#26a69a"/>
<rect x="641" y="209" width="1" height="62" fill="#ef5350"/><rect x="640" y="217" width="3" height="21" fill="#ef5350"/>
<rect x="645" y="222" width="1" height="46" fill="#ef5350"/><rect x="644" y="246" width="3" height="2" fill="#ef5350"/>
<rect x="649" y="246" width="1" height="35" fill="#ef5350"/><rect x="648" y="249" width="3" height="3" fill="#ef5350"/>
<rect x="653" y="244" width="1" height="33" fill="#ef5350"/><rect x="652" y="263" width="3" height="14" fill="#ef5350"/>
<rect x="658" y="221" width="1" height="53" fill="#26a69a"/><rect x="657" y="223" width="3" height="48" fill="#26a69a"/>
<rect x="662" y="171" width="1" height="72" fill="#26a69a"/><rect x="661" y="175" width="3" height="54" fill="#26a69a"/>
<rect x="666" y="50" width="1" height="209" fill="#26a69a"/><rect x="665" y="125" width="3" height="51" fill="#26a69a"/>
<rect x="670" y="88" width="1" height="45" fill="#ef5350"/><rect x="669" y="108" width="3" height="9" fill="#ef5350"/>
<rect x="674" y="107" width="1" height="35" fill="#ef5350"/><rect x="673" y="112" width="3" height="21" fill="#ef5350"/>
<rect x="678" y="123" width="1" height="63" fill="#26a69a"/><rect x="677" y="130" width="3" height="11" fill="#26a69a"/>
<rect x="682" y="92" width="1" height="50" fill="#26a69a"/><rect x="681" y="94" width="3" height="43" fill="#26a69a"/>
<rect x="686" y="88" width="1" height="59" fill="#ef5350"/><rect x="685" y="103" width="3" height="37" fill="#ef5350"/>
<rect x="690" y="114" width="1" height="31" fill="#26a69a"/><rect x="689" y="134" width="3" height="8" fill="#26a69a"/>
<rect x="694" y="131" width="1" height="36" fill="#ef5350"/><rect x="693" y="138" width="3" height="26" fill="#ef5350"/>
<rect x="698" y="139" width="1" height="39" fill="#26a69a"/><rect x="697" y="151" width="3" height="7" fill="#26a69a"/>
<rect x="702" y="154" width="1" height="23" fill="#ef5350"/><rect x="701" y="158" width="3" height="5" fill="#ef5350"/>
<rect x="706" y="160" width="1" height="42" fill="#ef5350"/><rect x="705" y="168" width="3" height="25" fill="#ef5350"/>
<rect x="711" y="190" width="1" height="80" fill="#ef5350"/><rect x="710" y="193" width="3" height="45" fill="#ef5350"/>
<rect x="715" y="246" width="1" height="41" fill="#ef5350"/><rect x="714" y="250" width="3" height="27" fill="#ef5350"/>
<rect x="719" y="248" width="1" height="25" fill="#26a69a"/><rect x="718" y="260" width="3" height="12" fill="#26a69a"/>
<rect x="723" y="250" width="1" height="27" fill="#ef5350"/><rect x="722" y="259" width="3" height="3" fill="#ef5350"/>
<rect x="727" y="222" width="1" height="45" fill="#26a69a"/><rect x="726" y="231" width="3" height="34" fill="#26a69a"/>
<rect x="731" y="188" width="1" height="47" fill="#26a69a"/><rect x="730" y="204" width="3" height="30" fill="#26a69a"/>
<rect x="735" y="193" width="1" height="32" fill="#ef5350"/><rect x="734" y="205" width="3" height="4" fill="#ef5350"/>
<rect x="739" y="193" width="1" height="41" fill="#ef5350"/><rect x="738" y="206" width="3" height="26" fill="#ef5350"/>
<rect x="743" y="210" width="1" height="36" fill="#26a69a"/><rect x="742" y="214" width="3" height="15" fill="#26a69a"/>
<rect x="747" y="191" width="1" height="38" fill="#26a69a"/><rect x="746" y="194" width="3" height="30" fill="#26a69a"/>
<rect x="751" y="176" width="1" height="43" fill="#ef5350"/><rect x="750" y="199" width="3" height="12" fill="#ef5350"/>
<rect x="755" y="217" width="1" height="35" fill="#ef5350"/><rect x="754" y="220" width="3" height="22" fill="#ef5350"/>
<rect x="759" y="235" width="1" height="46" fill="#ef5350"/><rect x="758" y="241" width="3" height="14" fill="#ef5350"/>
<rect x="763" y="242" width="1" height="74" fill="#ef5350"/><rect x="762" y="251" width="3" height="44" fill="#ef5350"/>
<rect x="768" y="290" width="1" height="71" fill="#ef5350"/><rect x="767" y="304" width="3" height="55" fill="#ef5350"/>
<rect x="772" y="357" width="1" height="36" fill="#ef5350"/><rect x="771" y="366" width="3" height="8" fill="#ef5350"/>
<rect x="776" y="368" width="1" height="48" fill="#ef5350"/><rect x="775" y="370" width="3" height="13" fill="#ef5350"/>
<rect x="780" y="359" width="1" height="36" fill="#26a69a"/><rect x="779" y="369" width="3" height="7" fill="#26a69a"/>
<rect x="784" y="352" width="1" height="49" fill="#ef5350"/><rect x="783" y="364" width="3" height="34" fill="#ef5350"/>
<rect x="788" y="404" width="1" height="49" fill="#ef5350"/><rect x="787" y="407" width="3" height="38" fill="#ef5350"/>
<rect x="792" y="434" width="1" height="65" fill="#ef5350"/><rect x="791" y="438" width="3" height="41" fill="#ef5350"/>
<rect x="796" y="438" width="1" height="53" fill="#26a69a"/><rect x="795" y="444" width="3" height="28" fill="#26a69a"/>
<rect x="800" y="408" width="1" height="53" fill="#ef5350"/><rect x="799" y="441" width="3" height="20" fill="#ef5350"/>
<rect x="804" y="413" width="1" height="40" fill="#26a69a"/><rect x="803" y="421" width="3" height="26" fill="#26a69a"/>
<rect x="808" y="410" width="1" height="45" fill="#ef5350"/><rect x="807" y="419" width="3" height="31" fill="#ef5350"/>
<rect x="812" y="411" width="1" height="53" fill="#26a69a"/><rect x="811" y="425" width="3" height="30" fill="#26a69a"/>
<rect x="816" y="412" width="1" height="28" fill="#26a69a"/><rect x="815" y="425" width="3" height="4" fill="#26a69a"/>
<rect x="821" y="424" width="1" height="34" fill="#ef5350"/><rect x="820" y="431" width="3" height="12" fill="#ef5350"/>
<rect x="825" y="438" width="1" height="16" fill="#ef5350"/><rect x="824" y="441" width="3" height="3" fill="#ef5350"/>
<rect x="829" y="441" width="1" height="23" fill="#ef5350"/><rect x="828" y="443" width="3" height="15" fill="#ef5350"/>
<rect x="833" y="463" width="1" height="35" fill="#ef5350"/><rect x="832" y="464" width="3" height="12" fill="#ef5350"/>
<rect x="837" y="479" width="1" height="45" fill="#ef5350"/><rect x="836" y="479" width="3" height="38" fill="#ef5350"/>
<rect x="841" y="517" width="1" height="31" fill="#ef5350"/><rect x="840" y="520" width="3" height="23" fill="#ef5350"/>
<rect x="845" y="495" width="1" height="46" fill="#26a69a"/><rect x="844" y="501" width="3" height="40" fill="#26a69a"/>
<rect x="849" y="455" width="1" height="48" fill="#26a69a"/><rect x="848" y="464" width="3" height="38" fill="#26a69a"/>
<rect x="853" y="464" width="1" height="29" fill="#ef5350"/><rect x="852" y="467" width="3" height="9" fill="#ef5350"/>
<rect x="857" y="465" width="1" height="34" fill="#ef5350"/><rect x="856" y="471" width="3" height="18" fill="#ef5350"/>
<rect x="861" y="476" width="1" height="21" fill="#26a69a"/><rect x="860" y="485" width="3" height="6" fill="#26a69a"/>
<rect x="865" y="492" width="1" height="31" fill="#ef5350"/><rect x="864" y="492" width="3" height="26" fill="#ef5350"/>
<rect x="869" y="497" width="1" height="22" fill="#26a69a"/><rect x="868" y="506" width="3" height="11" fill="#26a69a"/>
<rect x="873" y="484" width="1" height="23" fill="#26a69a"/><rect x="872" y="500" width="3" height="7" fill="#26a69a"/>
<rect x="878" y="484" width="1" height="26" fill="#26a69a"/><rect x="877" y="484" width="3" height="24" fill="#26a69a"/>
<rect x="882" y="458" width="1" height="26" fill="#26a69a"/><rect x="881" y="476" width="3" height="8" fill="#26a69a"/>
<rect x="886" y="449" width="1" height="22" fill="#26a69a"/><rect x="885" y="468" width="3" height="3" fill="#26a69a"/>
<rect x="890" y="461" width="1" height="43" fill="#ef5350"/><rect x="889" y="464" width="3" height="33" fill="#ef5350"/>
<rect x="894" y="489" width="1" height="23" fill="#26a69a"/><rect x="893" y="489" width="3" height="8" fill="#26a69a"/>
<rect x="898" y="484" width="1" height="40" fill="#ef5350"/><rect x="897" y="492" width="3" height="32" fill="#ef5350"/>
<rect x="902" y="516" width="1" height="19" fill="#ef5350"/><rect x="901" y="520" width="3" height="1" fill="#ef5350"/>
<rect x="906" y="496" width="1" height="29" fill="#26a69a"/><rect x="905" y="496" width="3" height="21" fill="#26a69a"/>
<rect x="910" y="495" width="1" height="21" fill="#ef5350"/><rect x="909" y="502" width="3" height="2" fill="#ef5350"/>
<rect x="914" y="488" width="1" height="47" fill="#ef5350"/><rect x="913" y="503" width="3" height="10" fill="#ef5350"/>
<rect x="918" y="513" width="1" height="30" fill="#ef5350"/><rect x="917" y="513" width="3" height="16" fill="#ef5350"/>
<rect x="922" y="517" width="1" height="19" fill="#26a69a"/><rect x="921" y="518" width="3" height="16" fill="#26a69a"/>
<rect x="926" y="518" width="1" height="21" fill="#ef5350"/><rect x="925" y="519" width="3" height="7" fill="#ef5350"/>
<rect x="931" y="517" width="1" height="13" fill="#ef5350"/><rect x="930" y="522" width="3" height="5" fill="#ef5350"/>
<rect x="935" y="504" width="1" height="28" fill="#26a69a"/><rect x="934" y="512" width="3" height="20" fill="#26a69a"/>
<rect x="939" y="504" width="1" height="12" fill="#26a69a"/><rect x="938" y="506" width="3" height="7" fill="#26a69a"/>
</g>
<g id="axes" shape-rendering="crispEdges">
<rect x="21" y="752" width="1324" height="1" fill="#7a7a7a"/>
<rect x="71" y="752" width="1" height="9" fill="#7a7a7a"/>
<rect x="169" y="752" width="1" height="9" fill="#7a7a7a"/>
<rect x="266" y="752" width="1" height="9" fill="#7a7a7a"/>
<rect x="364" y="752" width="1" height="9" fill="#7a7a7a"/>
<rect x="462" y="752" width="1" height="9" fill="#7a7a7a"/>
<rect x="560" y="752" width="1" height="9" fill="#7a7a7a"/>
<rect x="658" y="752" width="1" height="9" fill="#7a7a7a"/>
<rect x="755" y="752" width="1" height="9" fill="#7a7a7a"/>
<rect x="853" y="752" width="1" height="9" fill="#7a7a7a"/>
<rect x="951" y="752" width="1" height="9" fill="#7a7a7a"/>
<rect x="1049" y="752" width="1" height="9" fill="#7a7a7a"/>
<rect x="1146" y="752" width="1" height="9" fill="#7a7a7a"/>
<rect x="1244" y="752" width="1" height="9" fill="#7a7a7a"/>
<rect x="1342" y="752" width="1" height="9" fill="#7a7a7a"/>
</g>
<text class="ax" x="71.6" y="770.6" text-anchor="middle" textLength="27.8" lengthAdjust="spacing">2008</text>
<text class="ax" x="169.6" y="770.6" text-anchor="middle" textLength="27.8" lengthAdjust="spacing">2010</text>
<text class="ax" x="266.6" y="770.6" text-anchor="middle" textLength="27.8" lengthAdjust="spacing">2012</text>
<text class="ax" x="364.6" y="770.6" text-anchor="middle" textLength="27.8" lengthAdjust="spacing">2014</text>
<text class="ax" x="462.6" y="770.6" text-anchor="middle" textLength="27.8" lengthAdjust="spacing">2016</text>
<text class="ax" x="560.6" y="770.6" text-anchor="middle" textLength="27.8" lengthAdjust="spacing">2018</text>
<text class="ax" x="658.6" y="770.6" text-anchor="middle" textLength="27.8" lengthAdjust="spacing">2020</text>
<text class="ax" x="755.6" y="770.6" text-anchor="middle" textLength="27.8" lengthAdjust="spacing">2022</text>
<text class="ax" x="853.6" y="770.6" text-anchor="middle" textLength="27.8" lengthAdjust="spacing">2024</text>
<text class="ax" x="951.6" y="770.6" text-anchor="middle" textLength="27.8" lengthAdjust="spacing">2026</text>
<text class="ax" x="1049.6" y="770.6" text-anchor="middle" textLength="27.8" lengthAdjust="spacing">2028</text>
<text class="ax" x="1146.6" y="770.6" text-anchor="middle" textLength="27.8" lengthAdjust="spacing">2030</text>
<text class="ax" x="1244.6" y="770.6" text-anchor="middle" textLength="27.8" lengthAdjust="spacing">2032</text>
<text class="ax" x="1344.6" y="770.6" text-anchor="end" textLength="27.8" lengthAdjust="spacing">2034</text>
<text class="ax" x="1350.0" y="97" text-anchor="end" textLength="37.7" lengthAdjust="spacing">170.00</text>
<text class="ax" x="1350.0" y="149" text-anchor="end" textLength="37.7" lengthAdjust="spacing">160.00</text>
<text class="ax" x="1350.0" y="200" text-anchor="end" textLength="37.7" lengthAdjust="spacing">150.00</text>
<text class="ax" x="1350.0" y="251" text-anchor="end" textLength="37.7" lengthAdjust="spacing">140.00</text>
<text class="ax" x="1350.0" y="302" text-anchor="end" textLength="37.7" lengthAdjust="spacing">130.00</text>
<text class="ax" x="1350.0" y="353" text-anchor="end" textLength="37.7" lengthAdjust="spacing">120.00</text>
<text class="ax" x="1350.0" y="405" text-anchor="end" textLength="37.7" lengthAdjust="spacing">110.00</text>
<text class="ax" x="1350.0" y="456" text-anchor="end" textLength="37.7" lengthAdjust="spacing">100.00</text>
<text class="ax" x="1350.0" y="558" text-anchor="end" textLength="31.0" lengthAdjust="spacing">80.00</text>
<text class="ax" x="1350.0" y="609" text-anchor="end" textLength="31.0" lengthAdjust="spacing">70.00</text>
<text class="ax" x="1350.0" y="661" text-anchor="end" textLength="31.0" lengthAdjust="spacing">60.00</text>
<text class="ax" x="1350.0" y="712" text-anchor="end" textLength="31.0" lengthAdjust="spacing">50.00</text>
<text x="1344.5" y="749" text-anchor="end" font-size="9px" fill="#828282" font-family="DejaVu Sans,Liberation Sans,sans-serif">Exchange: EDT</text>
<rect x="1311.2" y="496.1" width="42.4" height="18.8" rx="3.2" fill="#26a69a"/>
<text x="1318.1" y="509.1" font-size="10px" font-weight="bold" fill="#ffffff" textLength="30.2" lengthAdjust="spacingAndGlyphs" font-family="DejaVu Sans,Liberation Sans,sans-serif">90.62</text>
<text transform="translate(662.3,727.5) rotate(-90)" font-size="11px" fill="#3d5a96" textLength="97.5" lengthAdjust="spacingAndGlyphs" font-family="DejaVu Sans,Liberation Sans,sans-serif">VbP start (manual)</text>
<g id="tsicon" fill="#ffffff" stroke="#35957a" stroke-width="1.05">
<path d="M27.4 31.1 L29.3 35.4 M29.3 38.2 L27.4 42.7" fill="none"/>
<circle cx="22.3" cy="36.5" r="1.7"/>
<circle cx="27.1" cy="29.5" r="1.5"/>
<circle cx="29.5" cy="36.8" r="1.3"/>
<circle cx="27.1" cy="44.5" r="1.75"/>
<circle cx="33.6" cy="31.7" r="1.3"/>
<circle cx="38.3" cy="27.4" r="1.75"/>
<circle cx="35.1" cy="38.7" r="1.4"/>
<circle cx="42.2" cy="41.6" r="1.75"/>
</g>
<text x="50.3" y="42.3" font-family="Liberation Sans,sans-serif" font-weight="bold" font-size="22px" fill="#0a0a0a" textLength="66" lengthAdjust="spacingAndGlyphs">Trend</text>
<text x="117.9" y="42.3" font-family="Liberation Sans,sans-serif" font-size="22px" fill="#111111" stroke="#ffffff" stroke-width="0.55" textLength="73" lengthAdjust="spacingAndGlyphs">Spider</text>
<text class="lbl" x="204.4" y="39.8" font-size="12px" textLength="149.4" lengthAdjust="spacingAndGlyphs">Oct 10, 2025 7:58PM EDT</text>
<text class="lbl" x="23.2" y="152.1" font-size="12.3px" textLength="162.8" lengthAdjust="spacingAndGlyphs">TLT, Monthly, Candles chart</text>
<rect x="20" y="57" width="70" height="70" fill="#0c1b6b"/>
<g stroke="#ffffff" fill="none">
<path d="M31 91.4 H47.6 M65.1 91.4 H78.9" stroke-width="0.9"/>
<path d="M51.4 91.3 L64.4 78" stroke-width="1" stroke-dasharray="0.9 2.3" opacity="0.9"/>
<path d="M62.6 78.3 H64.6 M56.6 86.2 H58.4" stroke-width="0.8"/>
<path d="M28 96.9 H82.2" stroke-width="0.9" stroke-dasharray="1.6 1.2 0.7 2.1 2.2 0.9 1 1.6 0.6 1.4" opacity="0.8"/>
<path d="M28 98.2 H82.2" stroke-width="1.1" stroke-dasharray="0.8 1.5 1.8 1 0.7 0.9 1.4 2 0.9 1.3" opacity="0.75"/>
<path d="M31 101.6 H78.7" stroke-width="0.8" stroke-dasharray="1.3 0.9 0.6 1.7 1 1.2 2 1.1" opacity="0.7"/>
<path d="M31 102.6 H78.7" stroke-width="0.7" stroke-dasharray="0.7 1.6 1.4 1.1 0.8 1.9" opacity="0.55"/>
</g>
<text x="20" y="791.8" font-family="Liberation Sans,sans-serif" font-size="10px" fill="#2a2a2a" textLength="87" lengthAdjust="spacingAndGlyphs">©2025 TrendSpider</text>
</svg></body></html>
